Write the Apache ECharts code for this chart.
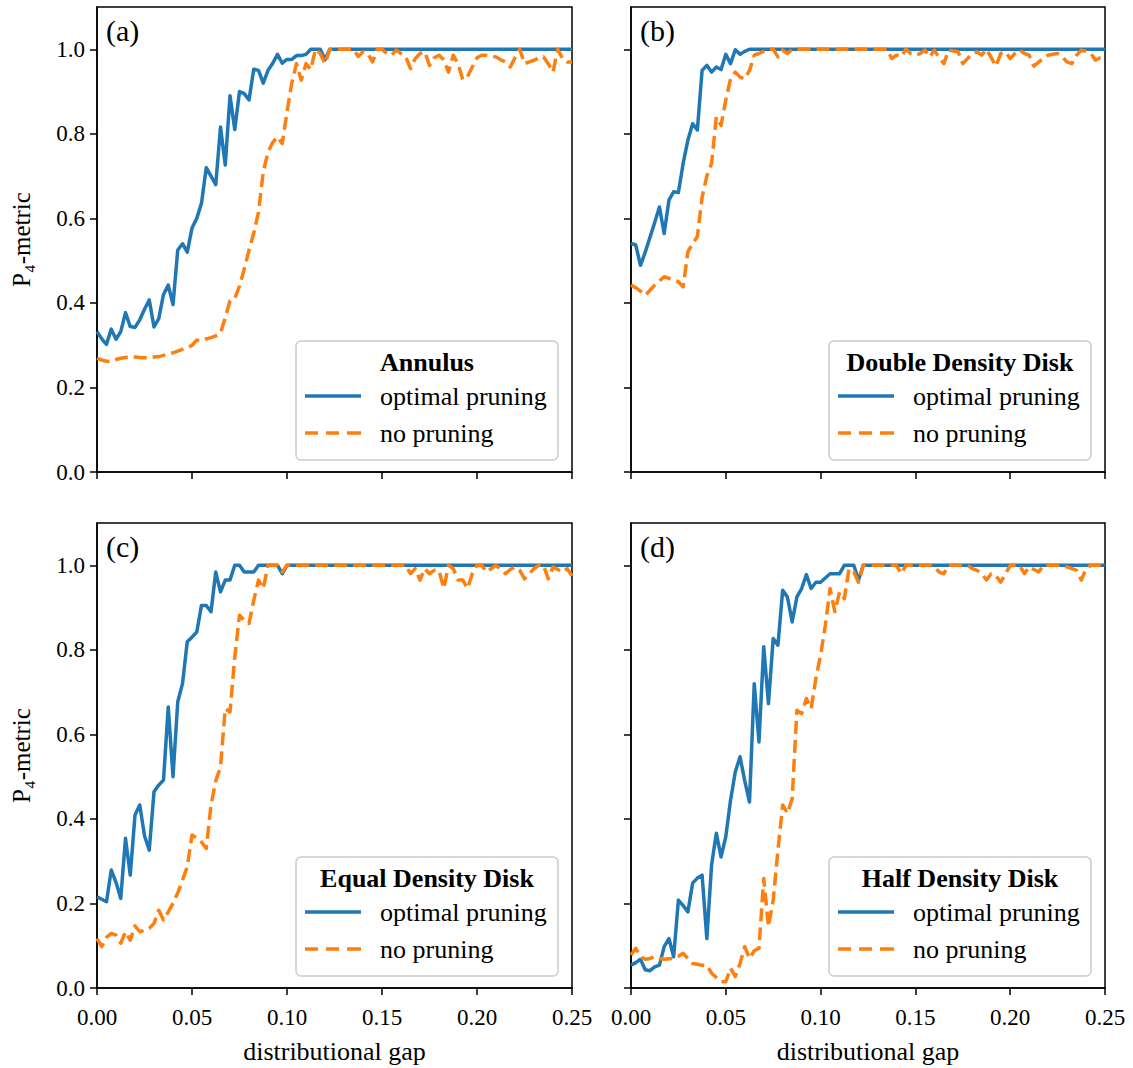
<!DOCTYPE html>
<html><head><meta charset="utf-8">
<script src="https://cdn.jsdelivr.net/npm/echarts@6/dist/echarts.min.js"></script>
<style>html,body{margin:0;padding:0;background:#fff}#c{width:1133px;height:1068px}</style>
</head><body><div id="c"></div>
<script>
// ---------- data ----------
const gap = [
 0, 0.0025, 0.005, 0.0075, 0.01, 0.0125, 0.015, 0.0175, 0.02, 0.0225,
 0.025, 0.0275, 0.03, 0.0325, 0.035, 0.0375, 0.04, 0.0425, 0.045, 0.0475,
 0.05, 0.0525, 0.055, 0.0575, 0.06, 0.0625, 0.065, 0.0675, 0.07, 0.0725,
 0.075, 0.0775, 0.08, 0.0825, 0.085, 0.0875, 0.09, 0.0925, 0.095, 0.0975,
 0.1, 0.1025, 0.105, 0.1075, 0.11, 0.1125, 0.115, 0.1175, 0.12, 0.1225,
 0.125, 0.1275, 0.13, 0.1325, 0.135, 0.1375, 0.14, 0.1425, 0.145, 0.1475,
 0.15, 0.1525, 0.155, 0.1575, 0.16, 0.1625, 0.165, 0.1675, 0.17, 0.1725,
 0.175, 0.1775, 0.18, 0.1825, 0.185, 0.1875, 0.19, 0.1925, 0.195, 0.1975,
 0.2, 0.2025, 0.205, 0.2075, 0.21, 0.2125, 0.215, 0.2175, 0.22, 0.2225,
 0.225, 0.2275, 0.23, 0.2325, 0.235, 0.2375, 0.24, 0.2425, 0.245, 0.2475,
 0.25];
const xTicks = [0, 0.05, 0.1, 0.15, 0.2, 0.25];
const yTicks = [0, 0.2, 0.4, 0.6, 0.8, 1.0];
const panelLabels = ['(a)', '(b)', '(c)', '(d)'];
const legendTitles = ['Annulus', 'Double Density Disk', 'Equal Density Disk', 'Half Density Disk'];
const seriesNames = ['optimal pruning', 'no pruning'];
const xAxisTitle = 'distributional gap';
const yAxisTitle = 'P\u2084-metric';

const annulusOpt = [
 0.332, 0.315, 0.302, 0.338, 0.314, 0.332, 0.377, 0.344, 0.342, 0.36,
 0.385, 0.407, 0.343, 0.363, 0.42, 0.442, 0.396, 0.525, 0.54, 0.52,
 0.577, 0.60, 0.636, 0.72, 0.70, 0.68, 0.816, 0.726, 0.89, 0.81,
 0.90, 0.895, 0.88, 0.953, 0.95, 0.92, 0.95, 0.967, 0.988, 0.967,
 0.976, 0.976, 0.985, 0.985, 0.988, 1, 1, 1, 0.975, 1,
 1, 1, 1, 1, 1, 1, 1, 1, 1, 1,
 1, 1, 1, 1, 1, 1, 1, 1, 1, 1,
 1, 1, 1, 1, 1, 1, 1, 1, 1, 1,
 1, 1, 1, 1, 1, 1, 1, 1, 1, 1,
 1, 1, 1, 1, 1, 1, 1, 1, 1, 1,
 1];
const annulusNo = [
 0.269, 0.265, 0.262, 0.261, 0.266, 0.269, 0.271, 0.273, 0.272, 0.271,
 0.27, 0.27, 0.272, 0.273, 0.276, 0.279, 0.282, 0.286, 0.29, 0.293,
 0.30, 0.312, 0.31, 0.315, 0.318, 0.322, 0.328, 0.365, 0.405, 0.41,
 0.44, 0.48, 0.525, 0.565, 0.615, 0.71, 0.757, 0.78, 0.793, 0.777,
 0.852, 0.92, 0.966, 0.927, 0.966, 0.952, 1, 0.99, 0.966, 1,
 1, 1, 1, 1, 1, 0.983, 0.994, 0.99, 0.97, 1,
 1, 0.99, 0.986, 0.998, 0.99, 0.982, 0.954, 0.978, 0.99, 0.994,
 0.962, 0.98, 0.986, 0.975, 0.946, 0.986, 0.966, 0.928, 0.935, 0.958,
 0.98, 0.986, 0.986, 0.984, 0.982, 0.975, 0.97, 0.958, 0.98, 1,
 0.966, 0.97, 0.974, 0.98, 0.982, 0.966, 0.946, 1, 0.978, 0.97,
 0.97];
const doubleOpt = [
 0.541, 0.537, 0.489, 0.52, 0.555, 0.59, 0.627, 0.564, 0.643, 0.663,
 0.661, 0.73, 0.785, 0.824, 0.809, 0.95, 0.962, 0.946, 0.958, 0.952,
 0.988, 0.966, 0.999, 0.988, 0.995, 1, 1, 1, 1, 1,
 1, 1, 1, 1, 1, 1, 1, 1, 1, 1,
 1, 1, 1, 1, 1, 1, 1, 1, 1, 1,
 1, 1, 1, 1, 1, 1, 1, 1, 1, 1,
 1, 1, 1, 1, 1, 1, 1, 1, 1, 1,
 1, 1, 1, 1, 1, 1, 1, 1, 1, 1,
 1, 1, 1, 1, 1, 1, 1, 1, 1, 1,
 1, 1, 1, 1, 1, 1, 1, 1, 1, 1,
 1];
const doubleNo = [
 0.442, 0.436, 0.428, 0.418, 0.43, 0.442, 0.452, 0.462, 0.458, 0.454,
 0.45, 0.438, 0.521, 0.54, 0.557, 0.65, 0.70, 0.73, 0.84, 0.82,
 0.88, 0.93, 0.946, 0.934, 0.93, 0.95, 0.986, 0.99, 0.995, 1,
 1, 0.982, 0.998, 0.99, 1, 1, 1, 1, 1, 1,
 1, 1, 1, 1, 1, 1, 1, 1, 1, 1,
 1, 1, 1, 1, 1, 0.978, 0.986, 0.982, 1, 0.99,
 0.986, 0.99, 0.998, 0.982, 0.998, 0.98, 0.966, 0.998, 0.996, 0.994,
 0.966, 0.978, 0.99, 0.994, 0.986, 1, 0.98, 0.96, 0.99, 0.994,
 0.978, 0.99, 0.998, 0.99, 0.986, 0.96, 0.97, 0.978, 0.986, 0.988,
 0.99, 0.982, 0.97, 0.966, 0.986, 0.998, 0.995, 0.99, 0.974, 0.98,
 0.982];
const equalOpt = [
 0.216, 0.21, 0.204, 0.279, 0.25, 0.212, 0.354, 0.267, 0.409, 0.433,
 0.36, 0.326, 0.464, 0.48, 0.492, 0.665, 0.50, 0.677, 0.72, 0.819,
 0.83, 0.842, 0.905, 0.905, 0.89, 0.984, 0.937, 0.965, 0.965, 1,
 1, 0.984, 0.984, 0.984, 1, 1, 1, 1, 1, 0.98,
 1, 1, 1, 1, 1, 1, 1, 1, 1, 1,
 1, 1, 1, 1, 1, 1, 1, 1, 1, 1,
 1, 1, 1, 1, 1, 1, 1, 1, 1, 1,
 1, 1, 1, 1, 1, 1, 1, 1, 1, 1,
 1, 1, 1, 1, 1, 1, 1, 1, 1, 1,
 1, 1, 1, 1, 1, 1, 1, 1, 1, 1,
 1];
const equalNo = [
 0.117, 0.098, 0.12, 0.129, 0.125, 0.106, 0.133, 0.113, 0.147, 0.133,
 0.137, 0.141, 0.153, 0.184, 0.161, 0.18, 0.20, 0.225, 0.255, 0.287,
 0.362, 0.355, 0.345, 0.33, 0.433, 0.49, 0.523, 0.661, 0.653, 0.783,
 0.882, 0.87, 0.862, 0.917, 0.965, 0.945, 1, 1, 1, 0.984,
 1, 1, 1, 1, 1, 1, 1, 1, 1, 1,
 1, 1, 1, 1, 1, 1, 1, 1, 1, 1,
 1, 1, 1, 1, 1, 1, 0.98, 0.992, 0.965, 0.992,
 0.98, 0.988, 0.988, 0.945, 1, 0.992, 0.965, 0.965, 0.945, 0.98,
 1, 1, 0.984, 0.992, 1, 0.99, 0.98, 0.99, 0.996, 0.988,
 0.968, 0.98, 0.992, 1, 1, 0.968, 0.996, 0.99, 0.984, 0.992,
 0.975];
const halfOpt = [
 0.054, 0.06, 0.068, 0.043, 0.041, 0.05, 0.054, 0.098, 0.117, 0.074,
 0.208, 0.195, 0.18, 0.248, 0.26, 0.267, 0.117, 0.291, 0.366, 0.31,
 0.358, 0.444, 0.511, 0.547, 0.49, 0.44, 0.72, 0.582, 0.807, 0.673,
 0.827, 0.811, 0.941, 0.925, 0.866, 0.925, 0.945, 0.978, 0.945, 0.96,
 0.96, 0.97, 0.98, 0.98, 0.98, 1, 1, 1, 0.965, 1,
 1, 1, 1, 1, 1, 1, 1, 1, 1, 1,
 1, 1, 1, 1, 1, 1, 1, 1, 1, 1,
 1, 1, 1, 1, 1, 1, 1, 1, 1, 1,
 1, 1, 1, 1, 1, 1, 1, 1, 1, 1,
 1, 1, 1, 1, 1, 1, 1, 1, 1, 1,
 1];
const halfNo = [
 0.078, 0.094, 0.074, 0.068, 0.07, 0.074, 0.07, 0.068, 0.069, 0.07,
 0.075, 0.082, 0.07, 0.058, 0.056, 0.054, 0.054, 0.035, 0.025, 0.015,
 0.015, 0.047, 0.027, 0.058, 0.098, 0.07, 0.088, 0.094, 0.259, 0.145,
 0.208, 0.326, 0.433, 0.413, 0.448, 0.657, 0.649, 0.685, 0.661, 0.732,
 0.787, 0.858, 0.945, 0.89, 0.937, 0.921, 0.992, 0.984, 0.96, 1,
 1, 1, 1, 1, 1, 1, 1, 0.98, 1, 1,
 1, 1, 1, 1, 0.996, 0.984, 0.98, 1, 1, 1,
 1, 1, 0.992, 0.988, 0.98, 0.965, 0.98, 0.975, 0.96, 0.98,
 1, 1, 1, 0.98, 0.996, 0.99, 0.984, 1, 1, 1,
 1, 1, 0.996, 0.992, 0.988, 0.965, 0.992, 1, 1, 1,
 1];

// ---------- chart ----------
const FONT = '"Liberation Serif", "Times New Roman", serif';
const BLUE = '#1f77b4', ORANGE = '#ff7f0e';
const LW = 3.5;
const panels = [
  {opt: annulusOpt, no: annulusNo},
  {opt: doubleOpt, no: doubleNo},
  {opt: equalOpt, no: equalNo},
  {opt: halfOpt, no: halfNo}
];
const gridPos = [
  {left: 97, top: 7, width: 475, height: 465},
  {left: 631, top: 7, width: 474, height: 465},
  {left: 97, top: 523, width: 475, height: 465},
  {left: 631, top: 523, width: 474, height: 465}
];
const boxW = 262, boxH = 119;
const solidIcon = 'path://M0 0H56V3.5H0Z';
const dashIcon = 'path://M0 0H13V3.5H0Z M21 0H34V3.5H21Z M42 0H56V3.5H42Z';

const option = {
  animation: false,
  backgroundColor: '#ffffff',
  textStyle: {fontFamily: FONT, color: '#000'},
  grid: [], xAxis: [], yAxis: [], series: [], legend: [], title: [], graphic: []
};

panels.forEach((p, k) => {
  const g = gridPos[k];
  const bottomRow = k >= 2;
  const leftCol = k % 2 === 0;
  option.grid.push(Object.assign({show: true, borderColor: '#000', borderWidth: 1.5,
    backgroundColor: 'rgba(0,0,0,0)', containLabel: false}, g));
  const axisLine = {show: true, onZero: false, lineStyle: {color: '#000', width: 1.5}};
  option.xAxis.push({
    type: 'value', gridIndex: k, min: 0, max: 0.25, interval: 0.05,
    axisLine: axisLine,
    axisTick: {show: true, inside: false, length: 7, customValues: xTicks,
      lineStyle: {color: '#000', width: 1.5}},
    axisLabel: {show: bottomRow, customValues: xTicks, margin: 18, color: '#000',
      fontSize: 23, fontFamily: FONT, formatter: v => v.toFixed(2)},
    splitLine: {show: false},
    name: bottomRow ? xAxisTitle : '',
    nameLocation: 'middle', nameGap: 50,
    nameTextStyle: {color: '#000', fontSize: 26, fontFamily: FONT}
  });
  option.yAxis.push({
    type: 'value', gridIndex: k, min: 0, max: 1.1, interval: 0.2,
    axisLine: axisLine,
    axisTick: {show: true, inside: false, length: 7, customValues: yTicks,
      lineStyle: {color: '#000', width: 1.5}},
    axisLabel: {show: leftCol, customValues: yTicks, margin: 12, color: '#000',
      fontSize: 23, fontFamily: FONT, formatter: v => v.toFixed(1)},
    splitLine: {show: false},
    name: leftCol ? yAxisTitle : '',
    nameLocation: 'middle', nameGap: 63, nameRotate: 90,
    nameTextStyle: {color: '#000', fontSize: 25, fontFamily: FONT}
  });
  option.series.push({
    name: seriesNames[0], type: 'line', xAxisIndex: k, yAxisIndex: k,
    data: gap.map((x, i) => [x, p.opt[i]]),
    symbol: 'none', showSymbol: false, z: 2,
    lineStyle: {color: BLUE, width: LW, join: 'round'},
    itemStyle: {color: BLUE}
  });
  option.series.push({
    name: seriesNames[1], type: 'line', xAxisIndex: k, yAxisIndex: k,
    data: gap.map((x, i) => [x, p.no[i]]),
    symbol: 'none', showSymbol: false, z: 3,
    lineStyle: {color: ORANGE, width: LW, type: [13, 6], cap: 'butt', join: 'round'},
    itemStyle: {color: ORANGE}
  });
  option.title.push({
    text: panelLabels[k], left: g.left + 9, top: g.top + 8, padding: 0,
    textStyle: {color: '#000', fontSize: 30, fontWeight: 'normal', fontFamily: FONT}
  });
  const bx = g.left + g.width - 14 - boxW;
  const by = g.top + g.height - 12 - boxH;
  option.graphic.push({
    type: 'rect', z: 100, silent: true,
    shape: {x: bx, y: by, width: boxW, height: boxH, r: 5},
    style: {fill: 'rgba(255,255,255,0.8)', stroke: '#cccccc', lineWidth: 1.5}
  });
  option.graphic.push({
    type: 'text', z: 101, silent: true,
    style: {x: bx + boxW / 2, y: by + 21, text: legendTitles[k], textAlign: 'center',
      textVerticalAlign: 'middle', fill: '#000', fontSize: 26, fontWeight: 'bold',
      fontFamily: FONT}
  });
  option.legend.push({
    data: [{name: seriesNames[0], icon: solidIcon}, {name: seriesNames[1], icon: dashIcon}],
    orient: 'vertical', selectedMode: false,
    left: bx + 9, top: by + 42, itemWidth: 56, itemHeight: 3.5, itemGap: 11,
    padding: 0, z: 102,
    textStyle: {color: '#000', fontSize: 26, fontFamily: FONT, padding: [0, 0, 0, 14]}
  });
});

const chart = echarts.init(document.getElementById('c'), null, {renderer: 'svg', width: 1133, height: 1068});
chart.setOption(option);
</script>
</body></html>
